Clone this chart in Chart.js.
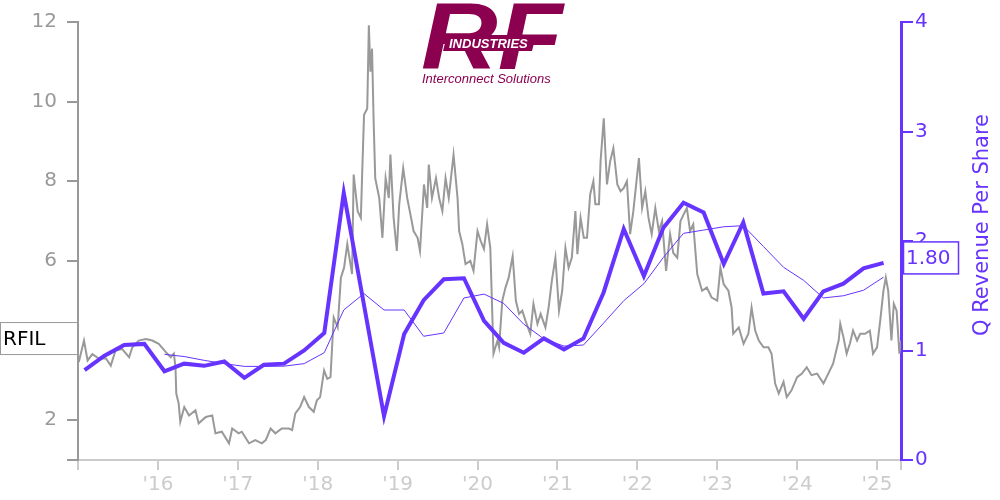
<!DOCTYPE html>
<html>
<head>
<meta charset="utf-8">
<script src="https://cdn.jsdelivr.net/npm/chart.js@4.4.1/dist/chart.umd.min.js"></script>
<style>
  html, body { margin: 0; padding: 0; background: #fff; }
  #wrap { width: 1000px; height: 500px; }
</style>
</head>
<body>
<div id="wrap"><canvas id="chart" width="1000" height="500"></canvas></div>
<script>
const ticker = 'RFIL';
const rightTitle = 'Q Revenue Per Share';
const yearTicks = [2016, 2017, 2018, 2019, 2020, 2021, 2022, 2023, 2024, 2025];
const priceTicks = [1, 2, 4, 6, 8, 10, 12];

// fiscal quarter ends (Jan / Apr / Jul / Oct)
const quarterEnds = [
  '2015-01-31', '2015-04-30', '2015-07-31', '2015-10-31',
  '2016-01-31', '2016-04-30', '2016-07-31', '2016-10-31',
  '2017-01-31', '2017-04-30', '2017-07-31', '2017-10-31',
  '2018-01-31', '2018-04-30', '2018-07-31', '2018-10-31',
  '2019-01-31', '2019-04-30', '2019-07-31', '2019-10-31',
  '2020-01-31', '2020-04-30', '2020-07-31', '2020-10-31',
  '2021-01-31', '2021-04-30', '2021-07-31', '2021-10-31',
  '2022-01-31', '2022-04-30', '2022-07-31', '2022-10-31',
  '2023-01-31', '2023-04-30', '2023-07-31', '2023-10-31',
  '2024-01-31', '2024-04-30', '2024-07-31', '2024-10-31',
  '2025-01-31'
];
const revPerShare = [
  0.82, 0.95, 1.05, 1.06, 0.81, 0.88, 0.86, 0.90, 0.75, 0.87, 0.88, 1.00,
  1.16, 2.44, 1.42, 0.40, 1.15, 1.46, 1.65, 1.66, 1.27, 1.07, 0.98, 1.11,
  1.01, 1.11, 1.53, 2.11, 1.68, 2.12, 2.35, 2.26, 1.79, 2.17, 1.52, 1.54,
  1.29, 1.54, 1.61, 1.75, 1.80
];
const revPerShareAvg = [
  null, null, null, null, 0.965, 0.945, 0.91, 0.88, 0.855, 0.855, 0.857, 0.88,
  0.98, 1.37, 1.52, 1.37, 1.37, 1.13, 1.16, 1.48, 1.515, 1.43, 1.24, 1.106,
  1.04, 1.05, 1.25, 1.455, 1.61, 1.85, 2.07, 2.10, 2.13, 2.14, 1.95, 1.76,
  1.64, 1.48, 1.50, 1.55, 1.67
];

// share price (decimal year, close)
const priceYears = [
  2015.01, 2015.075, 2015.12, 2015.18, 2015.26, 2015.35, 2015.41, 2015.47, 2015.55, 2015.64,
  2015.68, 2015.76, 2015.85, 2015.93, 2016.01, 2016.10, 2016.16, 2016.20, 2016.22, 2016.23,
  2016.26, 2016.28, 2016.33, 2016.39, 2016.47, 2016.51, 2016.60, 2016.68, 2016.72, 2016.80,
  2016.89, 2016.93, 2017.01, 2017.05, 2017.14, 2017.22, 2017.30, 2017.35, 2017.41, 2017.47,
  2017.55, 2017.64, 2017.68, 2017.72, 2017.78, 2017.83, 2017.89, 2017.95, 2017.99, 2018.03,
  2018.08, 2018.12, 2018.16, 2018.20, 2018.25, 2018.29, 2018.33, 2018.37, 2018.43, 2018.45,
  2018.50, 2018.54, 2018.56, 2018.58, 2018.62, 2018.64, 2018.66, 2018.68, 2018.70, 2018.72,
  2018.77, 2018.81, 2018.85, 2018.89, 2018.91, 2018.95, 2018.99, 2019.02, 2019.07, 2019.12,
  2019.16, 2019.20, 2019.25, 2019.28, 2019.33, 2019.37, 2019.39, 2019.43, 2019.48, 2019.52,
  2019.56, 2019.60, 2019.64, 2019.70, 2019.75, 2019.77, 2019.81, 2019.85, 2019.91, 2019.95,
  2020.00, 2020.04, 2020.08, 2020.12, 2020.16, 2020.20, 2020.25, 2020.27, 2020.31, 2020.35,
  2020.39, 2020.44, 2020.48, 2020.52, 2020.56, 2020.60, 2020.66, 2020.70, 2020.75, 2020.79,
  2020.85, 2020.89, 2020.93, 2020.975, 2021.02, 2021.06, 2021.10, 2021.14, 2021.18, 2021.225,
  2021.25, 2021.29, 2021.33, 2021.37, 2021.41, 2021.45, 2021.475, 2021.52, 2021.54, 2021.58,
  2021.62, 2021.66, 2021.70, 2021.75, 2021.79, 2021.83, 2021.87, 2021.91, 2021.95, 2022.02,
  2022.06, 2022.10, 2022.14, 2022.18, 2022.225, 2022.27, 2022.31, 2022.36, 2022.41, 2022.45,
  2022.50, 2022.54, 2022.58, 2022.62, 2022.66, 2022.70, 2022.75, 2022.81, 2022.87, 2022.93,
  2023.00, 2023.04, 2023.08, 2023.14, 2023.18, 2023.20, 2023.27, 2023.33, 2023.39, 2023.43,
  2023.475, 2023.52, 2023.58, 2023.64, 2023.68, 2023.725, 2023.77, 2023.83, 2023.87, 2023.93,
  2024.00, 2024.06, 2024.12, 2024.18, 2024.25, 2024.33, 2024.39, 2024.45, 2024.52, 2024.54,
  2024.58, 2024.62, 2024.66, 2024.70, 2024.75, 2024.79, 2024.85, 2024.91, 2024.95, 2025.00,
  2025.04, 2025.08, 2025.11, 2025.14, 2025.18, 2025.21, 2025.245, 2025.28, 2025.30
];
const priceValues = [
  3.46, 4.0, 3.5, 3.66, 3.55, 3.55, 3.37, 3.75, 3.79, 3.58,
  3.83, 4.0, 4.04, 4.0, 3.92, 3.71, 3.58, 3.67, 3.33, 2.67,
  2.42, 1.96, 2.33, 2.12, 2.25, 1.92, 2.08, 2.12, 1.67, 1.71,
  1.42, 1.79, 1.67, 1.71, 1.42, 1.5, 1.42, 1.5, 1.79, 1.67,
  1.79, 1.79, 1.75, 2.17, 2.33, 2.58, 2.33, 2.21, 2.5, 2.58,
  3.25, 3.04, 3.08, 4.58, 4.33, 5.58, 5.83, 6.42, 5.67, 8.17,
  7.25, 7.08, 8.42, 9.67, 9.83, 11.92, 10.75, 11.33, 9.5, 8.08,
  7.58, 6.58, 8.08, 7.58, 8.67, 7.08, 6.25, 7.42, 8.33, 7.58,
  7.17, 6.75, 6.58, 6.25, 7.92, 7.33, 8.42, 7.58, 8.08, 7.58,
  7.25, 8.08, 7.58, 8.67, 7.58, 6.75, 6.42, 5.92, 6.0, 5.75,
  6.75, 6.5, 6.3, 6.92, 6.33, 3.67, 4.0, 3.83, 5.0, 5.33,
  5.58, 6.12, 5.0, 4.67, 4.75, 4.5, 4.17, 4.92, 4.42, 4.67,
  4.33, 4.83, 5.5, 6.08, 4.75, 5.25, 6.33, 5.83, 6.08, 7.25,
  6.17, 7.08, 6.58, 6.58, 7.67, 8.0, 7.42, 7.42, 8.5, 9.58,
  7.92, 8.5, 8.83, 7.92, 7.75, 7.83, 8.0, 6.67, 7.25, 8.58,
  7.33, 7.75, 7.08, 6.67, 7.33, 6.75, 7.0, 5.75, 6.67, 6.2,
  6.08, 7.0, 7.17, 7.33, 6.75, 6.92, 5.67, 5.25, 5.33, 5.08,
  5.0, 5.83, 5.42, 5.25, 4.83, 4.17, 4.33, 3.92, 4.17, 4.83,
  4.25, 4.0, 3.83, 3.83, 3.67, 2.92, 2.67, 2.96, 2.58, 2.75,
  3.08, 3.17, 3.33, 3.13, 3.17, 2.92, 3.17, 3.42, 4.0, 4.42,
  4.08, 3.67, 3.92, 4.25, 4.0, 4.17, 4.17, 4.25, 3.67, 3.83,
  4.5, 5.25, 5.58, 5.25, 4.0, 4.92, 4.75, 3.67, 4.0
];

const grey = '#999999';
const purple = '#6633ff';
const logoColor = '#8c0050';
const tickFont = { family: 'DejaVu Sans', size: 20 };

function toYear(s) {
  const d = new Date(s + 'T00:00:00Z');
  const y = d.getUTCFullYear();
  const start = Date.UTC(y, 0, 1);
  const end = Date.UTC(y + 1, 0, 1);
  return y + (d.getTime() - start) / (end - start);
}

const quarterX = quarterEnds.map(toYear);
const revPoints = quarterX.map((x, i) => ({ x: x, y: revPerShare[i] }));
const avgPoints = quarterX.map((x, i) => ({ x: x, y: revPerShareAvg[i] }));
const pricePoints = priceYears.map((x, i) => ({ x: x, y: priceValues[i] }));

const xMin = 2015;
const xMax = 2025.3;

// labels, logo and the rotated right title
const extras = {
  id: 'extras',
  afterDatasetsDraw(chart) {
    const ctx = chart.ctx;
    ctx.save();
    // logo
    ctx.fillStyle = logoColor;
    ctx.textBaseline = 'alphabetic';
    ctx.textAlign = 'left';
    ctx.save();
    ctx.translate(421, 69);
    ctx.scale(1.13, 1);
    ctx.font = 'italic bold 94px "Liberation Sans"';
    ctx.fillText('RF', 0, 0);
    ctx.restore();
    ctx.beginPath();
    ctx.moveTo(447, 35);
    ctx.lineTo(536, 35);
    ctx.lineTo(532, 51);
    ctx.lineTo(443, 51);
    ctx.closePath();
    ctx.fill();
    ctx.fillStyle = '#fff';
    ctx.font = 'italic bold 13px "Liberation Sans"';
    ctx.fillText('INDUSTRIES', 449, 48, 80);
    ctx.fillStyle = logoColor;
    ctx.font = 'italic 13px "Liberation Sans"';
    ctx.fillText('Interconnect Solutions', 422, 83, 136);
    ctx.restore();
  },
  afterDraw(chart) {
    const ctx = chart.ctx;
    const yL = chart.scales.y;
    const yR = chart.scales.y1;
    ctx.save();
    // ticker box on the left axis at last price
    const py = yL.getPixelForValue(priceValues[priceValues.length - 1]) - 2;
    ctx.fillStyle = '#fff';
    ctx.fillRect(0.5, py - 16, 77, 32);
    ctx.strokeStyle = grey;
    ctx.lineWidth = 1;
    ctx.strokeRect(0.5, py - 16, 77, 32);
    ctx.fillStyle = '#000';
    ctx.font = '20px "DejaVu Sans"';
    ctx.textBaseline = 'middle';
    ctx.textAlign = 'left';
    ctx.fillText(ticker, 3, py + 1);
    // last revenue value box on the right axis
    const last = revPerShare[revPerShare.length - 1];
    const ry = yR.getPixelForValue(last) - 5;
    ctx.fillStyle = '#fff';
    ctx.fillRect(903.5, ry - 16, 55, 32);
    ctx.strokeStyle = purple;
    ctx.lineWidth = 1.5;
    ctx.strokeRect(903.5, ry - 16, 55, 32);
    ctx.fillStyle = purple;
    ctx.fillText(last.toFixed(2), 906, ry + 1);
    // right axis title, reading upwards
    ctx.translate(983, 225);
    ctx.rotate(-Math.PI / 2);
    ctx.textAlign = 'center';
    ctx.font = '21px "DejaVu Sans"';
    ctx.fillText(rightTitle, 0, 0);
    ctx.restore();
  }
};

new Chart(document.getElementById('chart'), {
  type: 'line',
  data: {
    datasets: [
      {
        label: 'Price',
        data: pricePoints,
        yAxisID: 'y',
        borderColor: grey,
        borderWidth: 2,
        pointRadius: 0,
        tension: 0,
        order: 3
      },
      {
        label: 'Revenue per share (4Q avg)',
        data: avgPoints,
        yAxisID: 'y1',
        borderColor: purple,
        borderWidth: 1,
        pointRadius: 0,
        tension: 0,
        spanGaps: false,
        order: 2
      },
      {
        label: rightTitle,
        data: revPoints,
        yAxisID: 'y1',
        borderColor: purple,
        borderWidth: 4,
        pointRadius: 0,
        tension: 0,
        order: 1
      }
    ]
  },
  options: {
    responsive: false,
    animation: false,
    layout: { padding: { top: 20, left: 0, right: 0, bottom: 0 } },
    plugins: {
      legend: { display: false },
      tooltip: { enabled: false }
    },
    scales: {
      x: {
        type: 'linear',
        min: xMin,
        max: xMax,
        afterBuildTicks: (scale) => {
          scale.ticks = [xMin].concat(yearTicks, [xMax]).map(v => ({ value: v }));
        },
        afterFit: (scale) => { scale.height = 40; },
        grid: { drawOnChartArea: false, color: '#cccccc', tickLength: 10, lineWidth: 2 },
        border: { color: '#cccccc', width: 2 },
        ticks: {
          color: '#cccccc',
          font: tickFont,
          padding: 3,
          maxRotation: 0,
          autoSkip: false,
          callback: (v) => yearTicks.includes(v) ? "'" + String(v).slice(2) : ''
        }
      },
      y: {
        position: 'left',
        min: 1,
        max: 12,
        afterBuildTicks: (scale) => {
          scale.ticks = priceTicks.map(v => ({ value: v }));
        },
        afterFit: (scale) => { scale.width = 78; },
        grid: { drawOnChartArea: false, color: grey, tickLength: 11, lineWidth: 2 },
        border: { color: grey, width: 2 },
        ticks: {
          color: grey,
          font: tickFont,
          padding: 10,
          callback: (v) => v === 1 ? '' : v
        }
      },
      y1: {
        position: 'right',
        min: 0,
        max: 4,
        afterFit: (scale) => { scale.width = 99; },
        grid: { drawOnChartArea: false, color: purple, tickLength: 12, lineWidth: 2 },
        border: { color: purple, width: 3 },
        ticks: {
          color: purple,
          font: tickFont,
          padding: 2,
          stepSize: 1
        }
      }
    }
  },
  plugins: [extras]
});
</script>
</body>
</html>
